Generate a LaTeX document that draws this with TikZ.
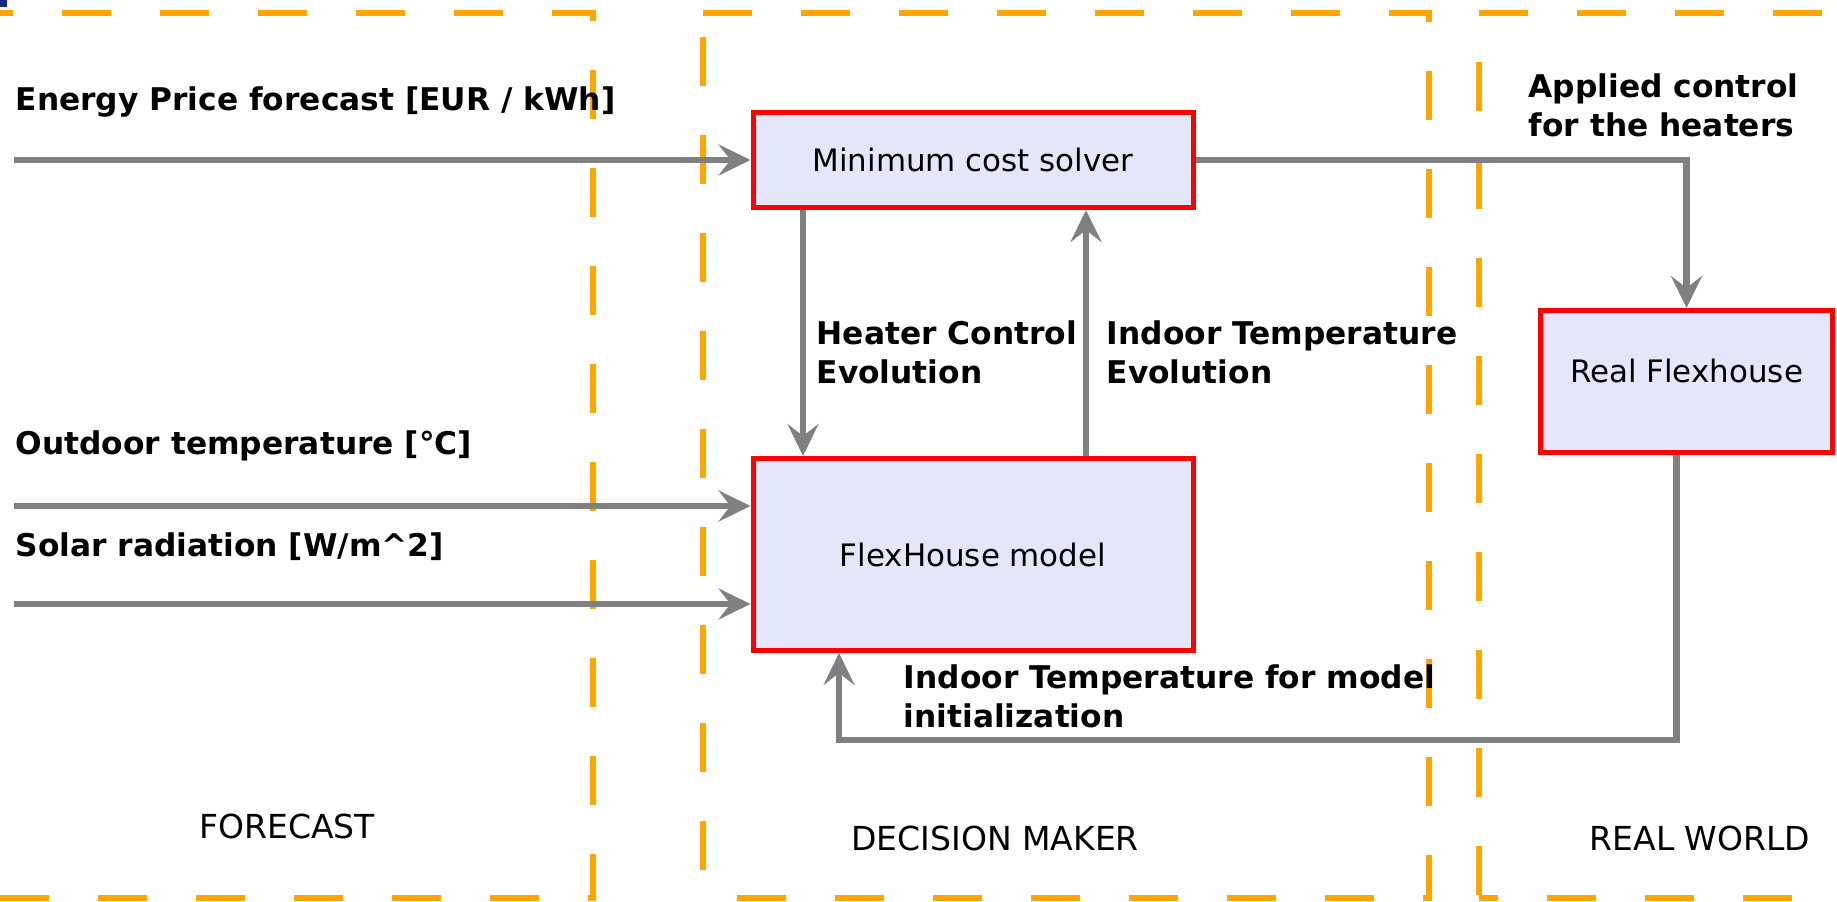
\documentclass[tikz,border=0pt]{standalone}
\usepackage{fontspec}
\setmainfont{DejaVu Sans}
\usetikzlibrary{arrows.meta}
\definecolor{zoneorange}{RGB}{255,165,0}
\definecolor{boxfill}{RGB}{230,230,250}
\definecolor{cornerblue}{RGB}{20,40,140}
\begin{document}
\begin{tikzpicture}[
  >={Stealth[length=3.2mm,width=3.1mm,inset=1.2mm]},
  block/.style={draw=red,line width=0.5mm,fill=boxfill,inner sep=0pt,font=\fontsize{8.8}{10.5}\selectfont},
  edge/.style={->,draw=gray,line width=0.65mm},
  zone/.style={draw=zoneorange,line width=0.65mm,dash pattern=on 4.9mm off 4.9mm},
  lbl/.style={inner sep=0pt,anchor=base west,align=left,font=\fontsize{8.9}{11.1}\selectfont\bfseries},
  zonelbl/.style={inner sep=0pt,font=\fontsize{9.4}{11}\selectfont}
]
\useasboundingbox (0,0) rectangle (18.37,9.01);
\fill[cornerblue] (0,9.01) rectangle (0.07,8.94);
\draw[zone] (-0.36,8.88) -- (5.93,8.88) -- (5.93,0.03) -- (-0.36,0.03) -- cycle;
\draw[zone] (7.03,8.88) -- (14.29,8.88) -- (14.29,0.03) -- (7.03,0.03);
\draw[zone,dash phase=7.4mm] (7.03,8.88) -- (7.03,0.03);
\draw[zone] (14.79,8.88) -- (18.79,8.88) -- (18.79,0.03) -- (14.79,0.03);
\draw[zone,dash phase=4.9mm] (14.79,8.88) -- (14.79,0.03);
\node[block,minimum width=4.4cm,minimum height=0.95cm] (solver) at (9.73,7.41) {Minimum cost solver};
\node[block,minimum width=4.4cm,minimum height=1.92cm] (model) at (9.73,3.465) {FlexHouse model};
\node[block,minimum width=2.92cm,minimum height=1.42cm,text depth=2.2mm] (house) at (16.865,5.195) {Real Flexhouse};
\coordinate (priceIn) at (0.14,7.41);
\coordinate (tempIn) at (0.14,3.95);
\coordinate (solarIn) at (0.14,2.97);
\coordinate (initCorner) at (8.39,1.61);
\draw[edge] (priceIn)--(solver.west);
\draw[edge] (tempIn)--(tempIn -| model.west);
\draw[edge] (solarIn)--(solarIn -| model.west);
\draw[edge] ([xshift=-1.7cm]solver.south)--([xshift=-1.7cm]model.north);
\draw[edge] ([xshift=1.13cm]model.north)--([xshift=1.13cm]solver.south);
\draw[edge] (solver.east) -| (house.north);
\draw[edge] ([xshift=-0.1cm]house.south) |- (initCorner)--(initCorner |- model.south);
\node[lbl] (priceLbl) at (0.15,7.90) {Energy Price forecast [EUR / kWh]};
\node[lbl] (tempLbl) at (0.15,4.46) {Outdoor temperature [°C]};
\node[lbl] (solarLbl) at (0.15,3.44) {Solar radiation [W/m\textasciicircum 2]};
\node[lbl] (heaterLbl) at (8.16,5.17) {Heater Control\\Evolution};
\node[lbl] (indoorLbl) at (11.06,5.17) {Indoor Temperature\\Evolution};
\node[lbl] (appliedLbl) at (15.28,7.64) {Applied control\\for the heaters};
\node[lbl] (initLbl) at (9.03,1.73) {Indoor Temperature for model\\initialization};
\node[zonelbl] (forecastLbl) at (2.87,0.75) {FORECAST};
\node[zonelbl] (deciderLbl) at (9.95,0.63) {DECISION MAKER};
\node[zonelbl] (worldLbl) at (17.00,0.63) {REAL WORLD};
\end{tikzpicture}
\end{document}
